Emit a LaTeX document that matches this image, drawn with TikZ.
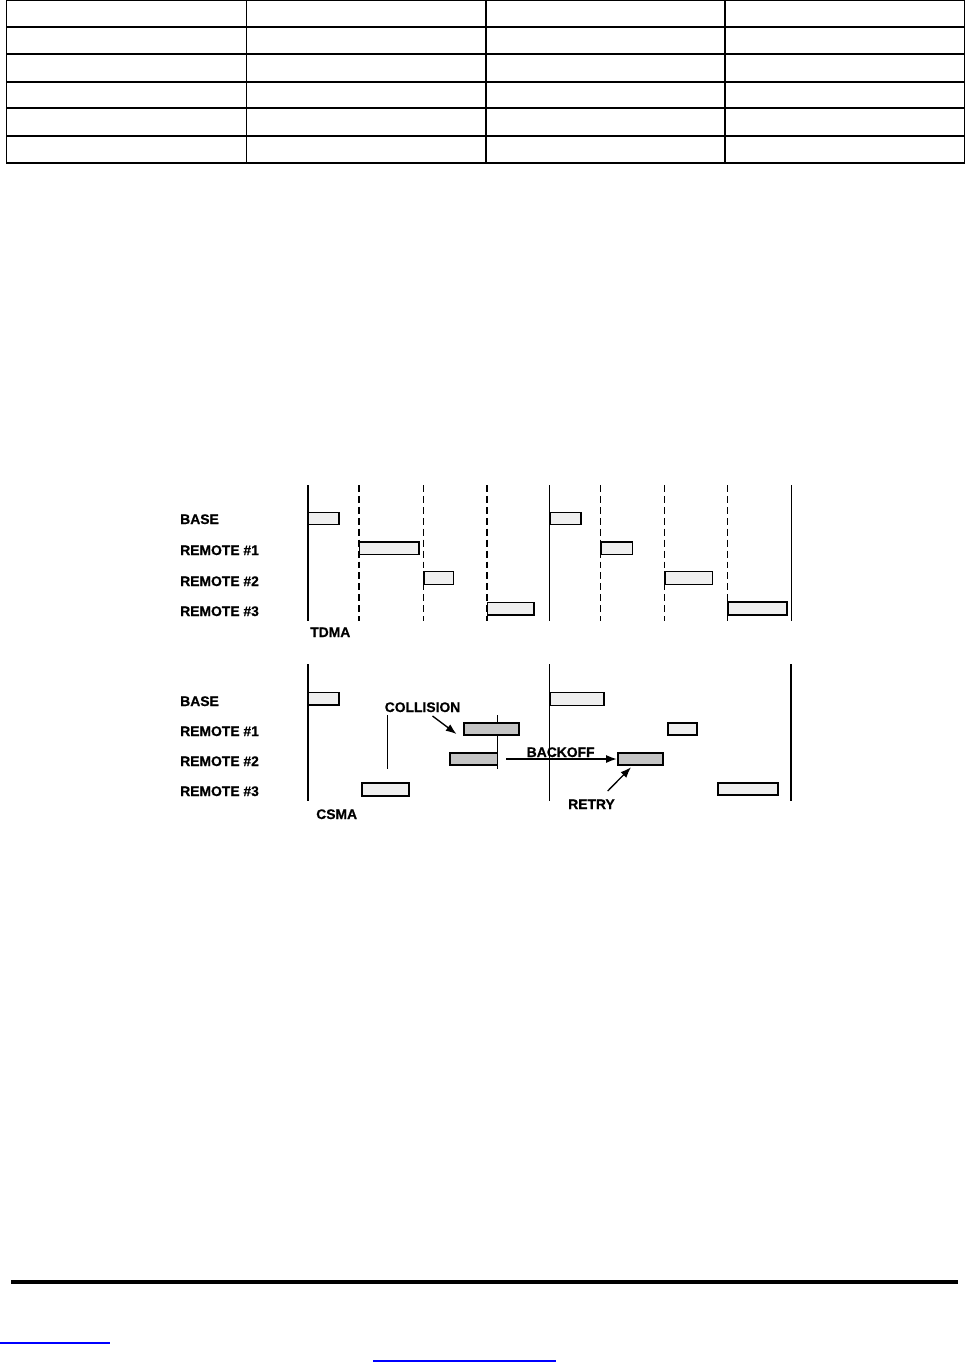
\documentclass[tikz,border=0pt]{standalone}
\usepackage{fontspec}
\setmainfont{Liberation Sans}[BoldFeatures={FakeBold=0.6}]
\usetikzlibrary{fit,arrows.meta}
\definecolor{boxlight}{HTML}{EFEFEF}
\definecolor{boxgray}{HTML}{C4C4C4}
\definecolor{linkblue}{RGB}{0,0,255}
\begin{document}
\begin{tikzpicture}[x=0.75pt,y=-0.75pt,
  tabline/.style={line width=1.3pt,black},
  lbl/.style={anchor=base west,inner sep=0pt,font=\fontsize{10.4pt}{12pt}\selectfont\bfseries},
  slot/.style={draw=black,line width=1.4pt,inner sep=0pt,fill=boxlight},
  slotgray/.style={slot,fill=boxgray},
  solidv/.style={line width=1.4pt,black},
  thinv/.style={line width=1pt,black},
  dashv/.style={line width=1.3pt,black,dash pattern=on 5.2pt off 3pt},
  arr/.style={line width=1pt,-{Latex[length=8pt,width=6pt]}}
]
\useasboundingbox (0,0) rectangle (966,1363);
% ---------------- table ----------------
\foreach \yy in {0.6,27,54,82,108,136,163}
  \draw[tabline] (6,\yy) -- (965,\yy);
\foreach \xx in {6.5,246.5,486,725,964.5}
  \draw[tabline] (\xx,0) -- (\xx,163.5);
% ---------------- TDMA ----------------
\draw[solidv] (308,485) -- (308,621);
\draw[solidv] (549.5,485) -- (549.5,621);
\draw[thinv] (791.5,485) -- (791.5,621);
\foreach \xx in {359,423.5,487,600.5,664.5,727.5}
  \draw[dashv] (\xx,485) -- (\xx,621);
\node[lbl] (tbase) at (180,524) {BASE};
\node[lbl] (tr1) at (180,555) {REMOTE \#1};
\node[lbl] (tr2) at (180,586) {REMOTE \#2};
\node[lbl] (tr3) at (180,616) {REMOTE \#3};
\node[lbl] (tdma) at (310,637) {TDMA};
\node[slot,fit={(308.5,512.5) (339,524.5)}] (tb1) {};
\node[slot,fit={(359.5,542) (419,554.5)}] (tr1a) {};
\node[slot,fit={(424,571.5) (453.5,584.5)}] (tr2a) {};
\node[slot,fit={(487.5,602.5) (534,615)}] (tr3a) {};
\node[slot,fit={(550,512.5) (581,524.5)}] (tb2) {};
\node[slot,fit={(601,542) (632.5,554.5)}] (tr1b) {};
\node[slot,fit={(665,571.5) (712.5,584.5)}] (tr2b) {};
\node[slot,fit={(728,602) (787,615)}] (tr3b) {};
% ---------------- CSMA ----------------
\draw[solidv] (308,664) -- (308,801);
\draw[solidv] (549.5,664) -- (549.5,801);
\draw[thinv] (791,664) -- (791,801);
\draw[thinv] (387.7,715) -- (387.7,769);
\draw[thinv] (497.5,715) -- (497.5,769);
\node[lbl] (cbase) at (180,706) {BASE};
\node[lbl] (cr1) at (180,736) {REMOTE \#1};
\node[lbl] (cr2) at (180,766) {REMOTE \#2};
\node[lbl] (cr3) at (180,796) {REMOTE \#3};
\node[lbl] (csma) at (316,819) {CSMA};
\node[slot,fit={(308.5,692.5) (339,705)}] (cb1) {};
\node[slot,fit={(550,692.5) (604.3,705.5)}] (cb2) {};
\node[slotgray,fit={(464.3,722.7) (519.3,735.3)}] (col1) {};
\node[slot,fit={(667.7,722.7) (697.3,735.3)}] (cr1b) {};
\node[slotgray,fit={(450.3,752.7) (497.5,765.3)}] (col2) {};
\node[slotgray,fit={(617.7,752.7) (663.3,765.3)}] (retry) {};
\node[slot,fit={(361.7,783.3) (409.3,795.7)}] (cr3a) {};
\node[slot,fit={(718.3,783) (777.7,795.3)}] (cr3b) {};
\node[lbl] (lcol) at (384.5,712) {COLLISION};
\node[lbl] (lback) at (526.5,757) {BACKOFF};
\node[lbl] (lretry) at (568,809) {RETRY};
\coordinate (colstart) at (432.5,716);
\coordinate (colend) at (456.5,734);
\coordinate (backstart) at (506,759);
\coordinate (retstart) at (607.7,791);
\coordinate (retend) at (631,767.3);
\draw[arr] (colstart) -- (colend);
\draw[arr] (backstart) -- (retry.west);
\draw[arr] (retstart) -- (retend);
% ---------------- footer ----------------
\draw[line width=2.3pt] (11,1282) -- (958,1282);
\draw[linkblue,line width=1pt] (0,1343) -- (110,1343);
\draw[linkblue,line width=1pt] (373,1361) -- (556,1361);
\end{tikzpicture}
\end{document}
